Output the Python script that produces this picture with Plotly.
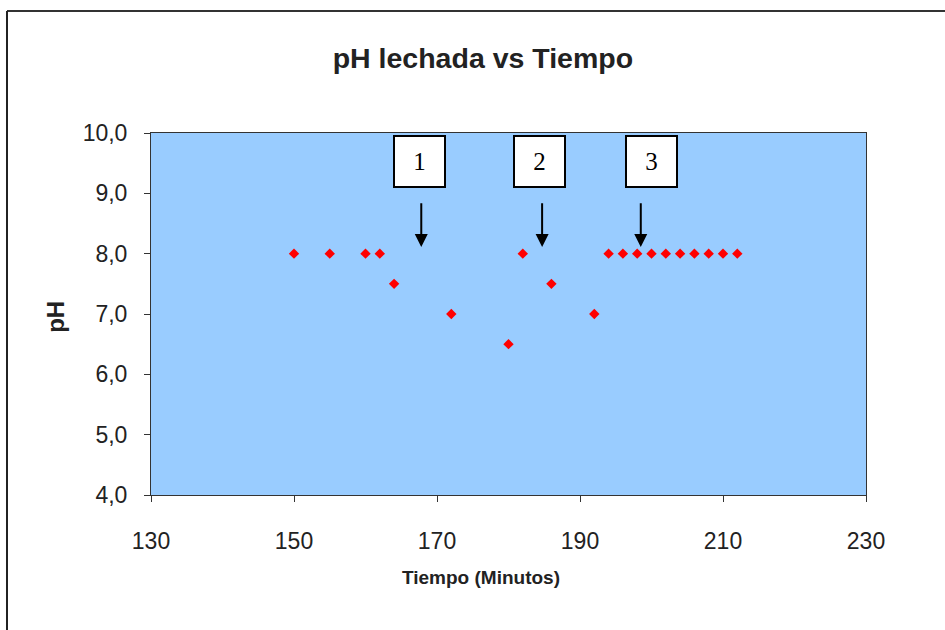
import plotly.graph_objects as go

tiempo = [150, 155, 160, 162, 164, 172, 180, 182, 186, 192, 194, 196, 198, 200, 202, 204, 206, 208, 210, 212]
ph = [8.0, 8.0, 8.0, 8.0, 7.5, 7.0, 6.5, 8.0, 7.5, 7.0, 8.0, 8.0, 8.0, 8.0, 8.0, 8.0, 8.0, 8.0, 8.0, 8.0]

y_ticks = [4, 5, 6, 7, 8, 9, 10]
y_ticktext = ["4,0", "5,0", "6,0", "7,0", "8,0", "9,0", "10,0"]
x_ticks = [130, 150, 170, 190, 210, 230]

box_labels = ["1", "2", "3"]
box_x = [167.6, 184.3, 200.0]
box_y = [9.53, 9.53, 9.53]
arrow_x = [167.8, 184.7, 198.5]
arrow_tip_y = [8.11, 8.11, 8.11]
arrow_tail_y = [8.86, 8.86, 8.86]

fig = go.Figure()
fig.add_trace(go.Scatter(
    x=tiempo, y=ph, mode="markers",
    marker=dict(symbol="diamond", color="#FF0000", size=8),
    showlegend=False,
))

ann = []
for lbl, bx, by in zip(box_labels, box_x, box_y):
    ann.append(dict(x=bx, y=by, xref="x", yref="y", text=lbl, showarrow=False,
                    font=dict(family="Liberation Serif", size=25, color="black"),
                    bgcolor="white", bordercolor="black", borderwidth=2,
                    width=47, height=47, align="center", valign="middle"))
for ax_, tip, tail in zip(arrow_x, arrow_tip_y, arrow_tail_y):
    ann.append(dict(x=ax_, y=tip, xref="x", yref="y", ax=ax_, ay=tail,
                    axref="x", ayref="y", text="", showarrow=True,
                    arrowhead=2, arrowsize=1.3, arrowwidth=2, arrowcolor="black"))

ann.append(dict(text="<b>Tiempo (Minutos)</b>", xref="paper", yref="paper",
                x=0.462, y=-0.229, showarrow=False, xanchor="center", yanchor="middle",
                font=dict(family="Arial", size=19, color="#222")))
ann.append(dict(text="<b>pH</b>", xref="paper", yref="paper", textangle=-90,
                x=-0.1329, y=0.492, showarrow=False, xanchor="center", yanchor="middle",
                font=dict(family="Arial", size=24, color="#222")))

fig.update_layout(
    width=945, height=630,
    margin=dict(l=151, r=79, t=133, b=135),
    paper_bgcolor="white",
    plot_bgcolor="#99CCFF",
    title=dict(text="<b>pH lechada vs Tiempo</b>", x=0.511, xanchor="center",
               y=0.908, yanchor="middle",
               font=dict(family="Arial", size=28.5, color="#222")),
    xaxis=dict(range=[130, 230], tickvals=x_ticks, ticks="outside", ticklen=6,
               tickcolor="#333", showgrid=False, zeroline=False,
               showline=True, linecolor="#333", linewidth=1, mirror=True,
               ticklabelstandoff=19,
               tickfont=dict(family="Arial", size=23, color="#222")),
    yaxis=dict(range=[4, 10], tickvals=y_ticks, ticktext=y_ticktext,
               ticks="outside", ticklen=6, tickcolor="#333",
               showgrid=False, zeroline=False,
               showline=True, linecolor="#333", linewidth=1, mirror=True,
               ticklabelstandoff=12,
               tickfont=dict(family="Arial", size=23, color="#222")),
    annotations=ann,
    shapes=[
        dict(type="line", xref="paper", yref="paper", x0=-0.2014, x1=1.2, y0=1.337, y1=1.337,
             line=dict(color="#333", width=2)),
        dict(type="line", xref="paper", yref="paper", x0=-0.2014, x1=-0.2014, y0=-0.5, y1=1.337,
             line=dict(color="#222", width=2)),
    ],
)

fig.write_html("out.html")
